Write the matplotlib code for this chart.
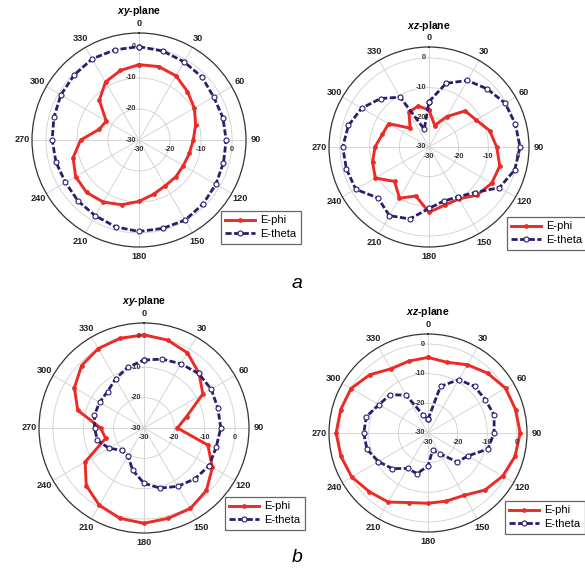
import numpy as np
import matplotlib
matplotlib.use("Agg")
import matplotlib.pyplot as plt
from matplotlib.transforms import ScaledTranslation

plt.rcParams['font.family'] = ['Liberation Sans', 'DejaVu Sans']
plt.rcParams['mathtext.fontset'] = 'custom'
plt.rcParams['mathtext.it'] = 'Liberation Sans:italic:bold'
plt.rcParams['mathtext.rm'] = 'Liberation Sans:bold'

# angles of the measured points (deg)
angles = [0, 15, 30, 45, 60, 75, 90, 105, 120, 135, 150, 165,
          180, 195, 210, 225, 240, 255, 270, 285, 300, 315, 330, 345]

# (a) xy-plane
a_xy_phi = [-5.7, -5.5, -6.1, -7.9, -9.4, -11.1, -12.5, -13.2, -13.5, -13.2, -13.0, -11.9,
            -10.2, -8.4, -6.9, -6.1, -6.4, -8.0, -11.2, -16.7, -17.8, -11.9, -8.4, -6.8]
a_xy_theta = [0.1, -0.3, -0.9, -1.3, -2.2, -2.0, -1.9, -1.8, -1.4, -0.8, -0.2, -0.5,
              -0.5, -1.0, -1.8, -2.2, -2.6, -2.3, -2.0, -1.6, -0.9, -0.4, 0.2, 0.1]
# (a) xz-plane
a_xz_phi = [-17.5, -22.5, -18.2, -12.8, -11.7, -8.8, -7.2, -5.3, -5.6, -7.1, -9.8, -9.7,
            -8.0, -12.9, -10.1, -13.6, -9.1, -10.3, -11.8, -13.7, -14.3, -21.0, -16.5, -15.7]
a_xz_theta = [-14.7, -7.8, -4.1, -2.3, -0.4, 0.1, 0.7, -0.1, -2.6, -8.3, -10.6, -11.1,
              -9.3, -4.9, -3.3, -5.7, -1.5, -1.2, -0.9, -1.9, -3.8, -6.9, -10.6, -23.8]
# (b) xy-plane
b_xy_phi = [0.7, 0.0, -1.4, -4.4, -7.6, -15.5, -19.0, -8.2, -4.0, -0.9, 0.6, 0.8,
            1.4, 0.8, -0.6, -3.1, -7.6, -16.9, -15.7, -7.4, -3.5, -0.9, 0.2, 0.6]
b_xy_theta = [-7.6, -6.5, -5.6, -4.6, -4.4, -4.8, -4.7, -5.4, -5.2, -6.3, -7.8, -9.5,
              -11.8, -15.6, -19.4, -19.6, -16.7, -14.1, -13.7, -13.1, -13.1, -13.0, -11.3, -9.3]
# (b) xz-plane
b_xz_phi = [-4.5, -5.3, -3.4, -1.5, 0.2, 0.6, 1.1, 0.4, -0.9, -2.8, -5.7, -6.2,
            -6.3, -5.7, -3.1, -2.0, -0.3, 0.4, 1.0, 0.5, 0.0, -2.2, -5.0, -4.9]
b_xz_theta = [-25.4, -13.7, -9.2, -7.8, -7.6, -6.9, -7.7, -9.1, -14.5, -16.1, -22.0, -24.0,
              -18.9, -15.8, -16.2, -13.0, -10.7, -8.7, -8.3, -8.5, -10.9, -11.8, -15.2, -23.8]

theta_ticks = [0, 30, 60, 90, 120, 150, 180, 210, 240, 270, 300, 330]
r_ticks = [-30, -20, -10, 0]

RED = '#ec2a26'
NAVY = '#2c1b6e'

W, H = 585, 571
fig = plt.figure(figsize=(W / 100, H / 100), dpi=100)


def panel(cx, cy, rad, rmax, phi, theta_v, title, title_y, leg_x, leg_y):
    ax = fig.add_axes([(cx - rad) / W, 1 - (cy + rad) / H, 2 * rad / W, 2 * rad / H],
                      projection='polar')
    ax.set_theta_zero_location('N')
    ax.set_theta_direction(-1)
    ax.set_ylim(-30, rmax)

    th = np.deg2rad(angles + [angles[0]])
    ax.plot(th, phi + [phi[0]], color=RED, lw=2.1, marker='o', ms=2.4,
            label='E-phi', zorder=3)
    ax.plot(th, theta_v + [theta_v[0]], color=NAVY, lw=2.0, dashes=(2.2, 0.9),
            marker='o', ms=3.6, mfc='white', mec=NAVY, mew=0.8,
            label='E-theta', zorder=4)

    ax.set_thetagrids(theta_ticks, [str(t) for t in theta_ticks],
                      fontsize=6.6, fontweight='bold', color='#222222')
    ax.tick_params(axis='x', pad=0, length=0)
    ax.set_rgrids(r_ticks[1:], labels=[''] * 3)
    ax.tick_params(axis='y', length=0)
    ax.grid(True, color='#cfcfcf', lw=0.6)
    ax.spines['polar'].set_color('#333333')
    ax.spines['polar'].set_linewidth(0.9)

    # radial labels along the vertical and the horizontal spoke
    left = ax.transData + ScaledTranslation(-2 / 72, 0, fig.dpi_scale_trans)
    below = ax.transData + ScaledTranslation(0, -7 / 72, fig.dpi_scale_trans)
    for r in r_ticks:
        ax.text(0, r, str(r), transform=left, ha='right', va='center',
                fontsize=5.2, fontweight='bold', color='#333333')
        ax.text(np.pi / 2, r, str(r), transform=below, ha='center', va='center',
                fontsize=5.2, fontweight='bold', color='#333333')

    fig.text(cx / W, 1 - title_y / H, title, ha='center', va='center',
             fontsize=7.5, fontweight='bold')

    ax.legend(loc='upper left', bbox_to_anchor=(leg_x / W, 1 - leg_y / H),
              bbox_transform=fig.transFigure, borderaxespad=0, fancybox=False,
              edgecolor='#666666', framealpha=1, fontsize=8, handlelength=2.7,
              handletextpad=0.45, borderpad=0.4, labelspacing=0.35)
    ax.get_legend().get_frame().set_linewidth(0.9)
    return ax


panel(139, 140, 107, 4.5, a_xy_phi, a_xy_theta, r'$\mathit{xy}$-plane', 11, 221, 211)
panel(429, 147, 100, 3.7, a_xz_phi, a_xz_theta, r'$\mathit{xz}$-plane', 26, 507, 217)
panel(144, 428, 105, 4.6, b_xy_phi, b_xy_theta, r'$\mathit{xy}$-plane', 301, 225, 497)
panel(428, 433, 99, 3.4, b_xz_phi, b_xz_theta, r'$\mathit{xz}$-plane', 312, 505, 501)

fig.text(297 / W, 1 - 283 / H, 'a', ha='center', va='center', fontsize=14, style='italic')
fig.text(297 / W, 1 - 558 / H, 'b', ha='center', va='center', fontsize=14, style='italic')

fig.savefig('out.png', dpi=100)
